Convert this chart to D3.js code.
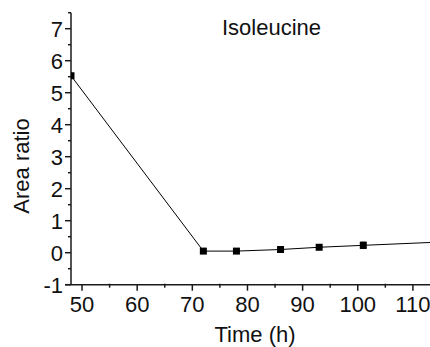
<!DOCTYPE html>
<html>
<head>
<meta charset="utf-8">
<script src="https://cdn.jsdelivr.net/npm/d3@7"></script>
<style>
  html, body { margin: 0; padding: 0; background: #fff; }
  svg { display: block; font-family: "Liberation Sans", Arial, sans-serif; }
</style>
</head>
<body>
<svg id="chart" width="430" height="347"></svg>
<script>
// Isoleucine area ratio over time
const timesH = [48, 72, 78, 86, 93, 101, 120];
const areaRatio = [5.53, 0.05, 0.05, 0.10, 0.17, 0.23, 0.37];
const errorBars = [0, 0.02, 0.02, 0.02, 0.02, 0.10, 0.02];
const xTicks = [50, 60, 70, 80, 90, 100, 110];
const yTicks = [-1, 0, 1, 2, 3, 4, 5, 6, 7];
const title = "Isoleucine";
const xTitle = "Time (h)";
const yTitle = "Area ratio";

const svg = d3.select("#chart");
const plot = { left: 71, top: 12.7, right: 430, bottom: 284.7 };

const x = d3.scaleLinear().domain([48, 113.1]).range([plot.left, plot.right]);
const y = d3.scaleLinear().domain([-1, 7.5]).range([plot.bottom, plot.top]);

svg.append("defs").append("clipPath").attr("id", "plotClip")
  .append("rect")
  .attr("x", plot.left).attr("y", plot.top - 5)
  .attr("width", plot.right - plot.left + 10)
  .attr("height", plot.bottom - plot.top + 5);

const fontSize = 22;
const axisColor = "#1a1a1a";

// x axis: major ticks outward, minor ticks between
const xAxis = svg.append("g").attr("transform", `translate(0,${plot.bottom})`);
xAxis.append("line")
  .attr("x1", plot.left - 6).attr("x2", plot.right)
  .attr("stroke", axisColor).attr("stroke-width", 1.5);
const xMinor = d3.range(50, 116, 5).filter(v => xTicks.indexOf(v) < 0);
xAxis.selectAll(".xmaj").data(xTicks).join("line")
  .attr("x1", d => x(d)).attr("x2", d => x(d))
  .attr("y1", 0).attr("y2", 6)
  .attr("stroke", axisColor).attr("stroke-width", 1.5);
xAxis.selectAll(".xmin").data(xMinor).join("line")
  .attr("x1", d => x(d)).attr("x2", d => x(d))
  .attr("y1", -1).attr("y2", 3)
  .attr("stroke", axisColor).attr("stroke-width", 1.5);
xAxis.selectAll("text").data(xTicks).join("text")
  .attr("x", d => x(d)).attr("y", 27)
  .attr("text-anchor", "middle")
  .attr("font-size", fontSize).attr("fill", "#111")
  .text(d => d);

// y axis
const yAxis = svg.append("g");
yAxis.append("line")
  .attr("x1", plot.left).attr("x2", plot.left)
  .attr("y1", plot.top).attr("y2", plot.bottom)
  .attr("stroke", axisColor).attr("stroke-width", 1.5);
const yMinor = d3.range(-0.5, 7.6, 1);
yAxis.selectAll(".ymaj").data(yTicks).join("line")
  .attr("x1", plot.left - 6).attr("x2", plot.left)
  .attr("y1", d => y(d)).attr("y2", d => y(d))
  .attr("stroke", axisColor).attr("stroke-width", 1.5);
yAxis.selectAll(".ymin").data(yMinor).join("line")
  .attr("x1", plot.left - 3).attr("x2", plot.left)
  .attr("y1", d => y(d)).attr("y2", d => y(d))
  .attr("stroke", axisColor).attr("stroke-width", 1.5);
yAxis.selectAll("text").data(yTicks).join("text")
  .attr("x", plot.left - 8).attr("y", d => y(d))
  .attr("dy", "0.36em")
  .attr("text-anchor", "end")
  .attr("font-size", fontSize).attr("fill", "#111")
  .text(d => d);

// data: connecting line, error bars, square markers
const data = timesH.map((t, i) => ({ t, v: areaRatio[i], e: errorBars[i] }));
const g = svg.append("g").attr("clip-path", "url(#plotClip)");

g.append("path")
  .datum(data)
  .attr("fill", "none").attr("stroke", "#000").attr("stroke-width", 1)
  .attr("d", d3.line().x(d => x(d.t)).y(d => y(d.v)));

const eb = g.selectAll(".eb").data(data).join("g");
eb.append("line")
  .attr("x1", d => x(d.t)).attr("x2", d => x(d.t))
  .attr("y1", d => y(d.v - d.e)).attr("y2", d => y(d.v + d.e))
  .attr("stroke", "#000").attr("stroke-width", 1);
eb.selectAll(".cap").data(d => [d.v - d.e, d.v + d.e].map(val => ({ t: d.t, val })))
  .join("line")
  .attr("x1", d => x(d.t) - 3).attr("x2", d => x(d.t) + 3)
  .attr("y1", d => y(d.val)).attr("y2", d => y(d.val))
  .attr("stroke", "#000").attr("stroke-width", 1);

const ms = 7;
g.selectAll(".pt").data(data).join("rect")
  .attr("x", d => x(d.t) - ms / 2).attr("y", d => y(d.v) - ms / 2)
  .attr("width", ms).attr("height", ms)
  .attr("fill", "#000");

// titles
svg.append("text")
  .attr("x", 222).attr("y", 35)
  .attr("font-size", fontSize).attr("fill", "#111")
  .text(title);

svg.append("text")
  .attr("x", 255).attr("y", 342)
  .attr("text-anchor", "middle")
  .attr("font-size", fontSize).attr("fill", "#111")
  .text(xTitle);

svg.append("text")
  .attr("transform", `translate(29,166) rotate(-90)`)
  .attr("text-anchor", "middle")
  .attr("font-size", fontSize).attr("fill", "#111")
  .text(yTitle);
</script>
</body>
</html>
